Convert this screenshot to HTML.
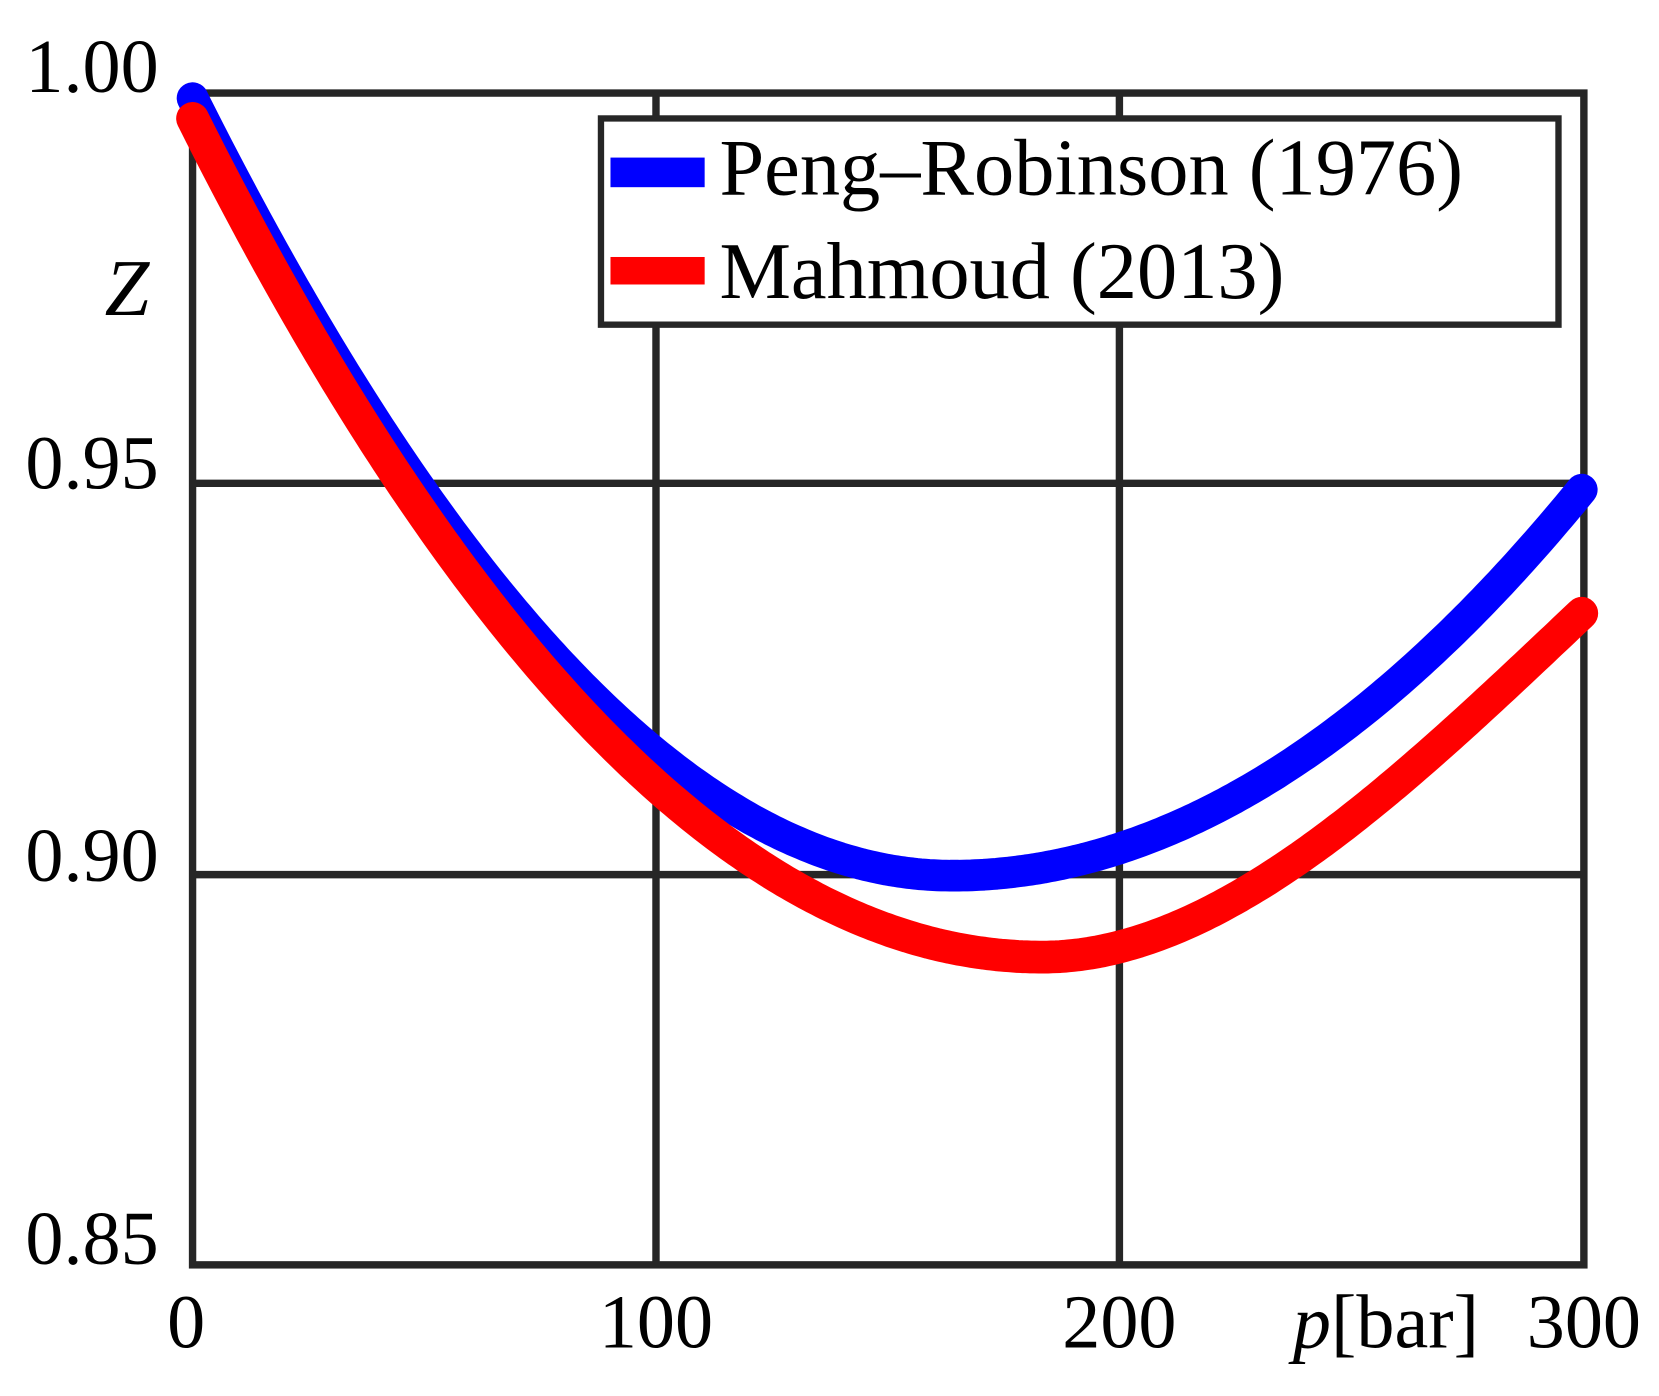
<!DOCTYPE html>
<html><head><meta charset="utf-8"><style>html,body{margin:0;padding:0;background:#fff}svg{display:block}</style></head>
<body>
<svg width="1659" height="1396" viewBox="0 0 1568 1320" preserveAspectRatio="none" xmlns="http://www.w3.org/2000/svg">
<rect width="1568" height="1320" fill="#fff"/>
<g stroke="#262626" stroke-width="7" fill="none">
<rect x="182" y="88" width="1315" height="1108"/>
<line x1="620" y1="88" x2="620" y2="1196"/>
<line x1="1058" y1="88" x2="1058" y2="1196"/>
<line x1="182" y1="457" x2="1497" y2="457"/>
<line x1="182" y1="827" x2="1497" y2="827"/>
</g>
<polyline id="blue" fill="none" stroke="#0000ff" stroke-width="30" stroke-linejoin="round" stroke-linecap="round" points=""/>
<polyline id="red" fill="none" stroke="#ff0000" stroke-width="31" stroke-linejoin="round" stroke-linecap="round" points=""/>
<rect x="568" y="112" width="905" height="195" fill="#fff" stroke="#262626" stroke-width="6"/>
<rect x="577" y="149" width="89" height="28" fill="#0000ff"/>
<rect x="577" y="243" width="89" height="26" fill="#ff0000"/>
<g font-family="Liberation Serif, serif" font-size="72" fill="#000">
<text x="680" y="184" font-size="76">Peng–Robinson (1976)</text>
<text x="680" y="282" font-size="76">Mahmoud (2013)</text>
<text x="150" y="87" text-anchor="end">1.00</text>
<text x="150" y="462" text-anchor="end">0.95</text>
<text x="150" y="833" text-anchor="end">0.90</text>
<text x="150" y="1195" text-anchor="end">0.85</text>
<text x="120" y="298" text-anchor="middle" font-style="italic" font-size="76">Z</text>
<text x="176" y="1274" text-anchor="middle">0</text>
<text x="620" y="1274" text-anchor="middle">100</text>
<text x="1058" y="1274" text-anchor="middle">200</text>
<text x="1497" y="1274" text-anchor="middle">300</text>
<text x="1222" y="1274"><tspan font-style="italic">p</tspan>[bar]</text>
</g>
</svg>
<script>
function blue(x){var u=x-900;if(u<0)return 828-(0.0015*u*u+1.03e-7*u*u*u);return 828-0.001031*u*u;}
function red(x){var u=x-985;if(u<0)return 905-(0.001206*u*u-2.97e-8*u*u*u);return 905-(0.001895*u*u-1.265e-6*u*u*u);}
function pts(f){var s=[];for(var x=182;x<=1495;x+=4){s.push(x+","+f(x).toFixed(1));}s.push("1495,"+f(1495).toFixed(1));return s.join(" ");}
document.getElementById("blue").setAttribute("points",pts(blue));
document.getElementById("red").setAttribute("points",pts(red));
</script>
</body></html>
